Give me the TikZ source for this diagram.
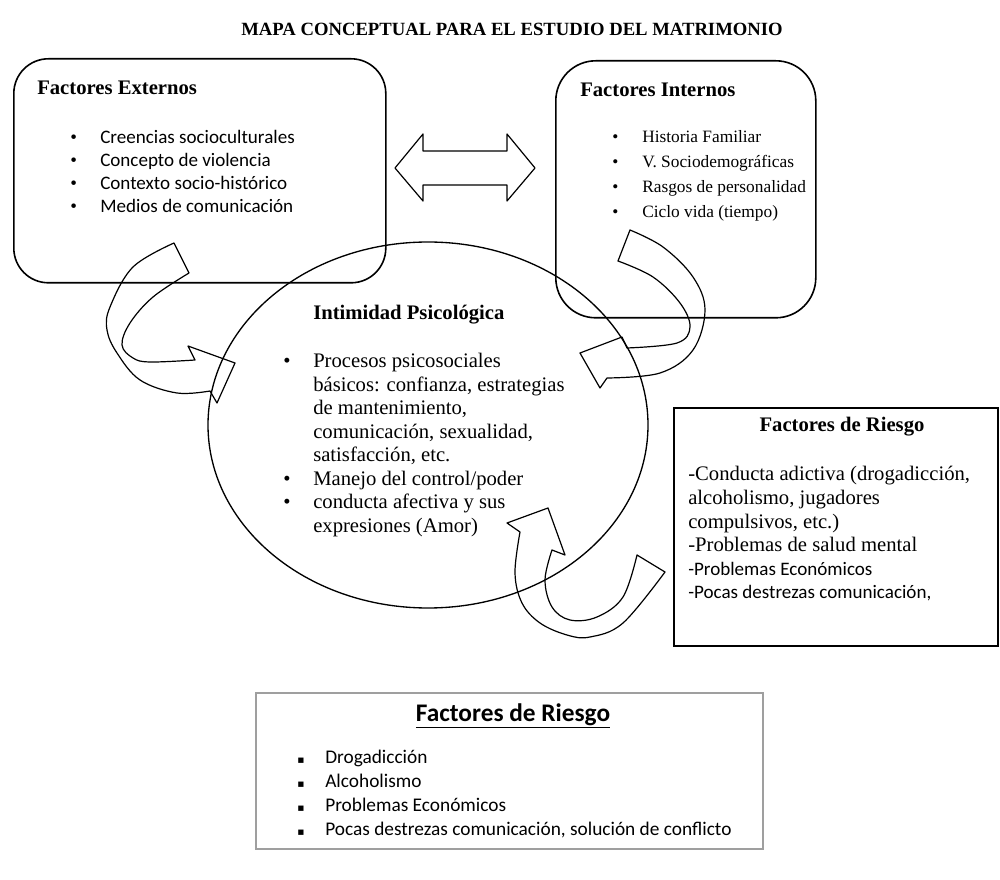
\documentclass[tikz,border=0pt]{standalone}
\usepackage{fontspec}
\setmainfont{Liberation Serif}
\newfontfamily\calibfont{Carlito}
\newfontfamily\symbfont{DejaVu Sans}
\usetikzlibrary{shapes.geometric}

\tikzset{
  conbox/.style={draw, line width=1.2pt, inner sep=0pt},
  blockarrow/.style={draw, line width=0.9pt, line join=round},
  headtxt/.style={inner sep=0pt, font=\bfseries\fontsize{15.5}{18}\selectfont},
  listtxt/.style={inner sep=0pt, anchor=base west},
}

\begin{document}
\begin{tikzpicture}[x=0.75pt,y=0.75pt,yscale=-1,xscale=1]
        \useasboundingbox (0,0) rectangle (1000,880);

        %Title
        \node[inner sep=0pt, anchor=base, font=\bfseries\fontsize{14}{16}\selectfont] (title) at (512,36) {MAPA CONCEPTUAL PARA EL ESTUDIO DEL MATRIMONIO};

        %Factores Externos
        \node[conbox, rounded corners=26pt, anchor=north west, minimum width=279pt, minimum height=168pt] (ext) at (13,58) {};
        \node[headtxt, anchor=base west] (exthead) at (37,95) {Factores Externos};
        \node[listtxt, font=\calibfont\fontsize{14.3}{17.25}\selectfont] (extlist) at (70,144) {\begin{tabular}[t]{@{}p{22.5pt}@{}l@{}}
          {\rmfamily\textbullet} & Creencias socioculturales\\
          {\rmfamily\textbullet} & Concepto de violencia\\
          {\rmfamily\textbullet} & Contexto socio-histórico\\
          {\rmfamily\textbullet} & Medios de comunicación
        \end{tabular}};

        %Factores Internos
        \node[conbox, rounded corners=30pt, anchor=north west, minimum width=195pt, minimum height=192.75pt] (int) at (555,60) {};
        \node[headtxt, anchor=base west] (inthead) at (580,97) {Factores Internos};
        \node[listtxt, font=\fontsize{13}{18.75}\selectfont] (intlist) at (612,143) {\begin{tabular}[t]{@{}p{22.5pt}@{}l@{}}
          \textbullet & Historia Familiar\\
          \textbullet & V. Sociodemográficas\\
          \textbullet & Rasgos de personalidad\\
          \textbullet & Ciclo vida (tiempo)
        \end{tabular}};

        %Double Arrow
        \draw[blockarrow] (395,168) -- (423,134) -- (423,151) -- (507,151) -- (507,134) -- (535,168) -- (507,201) -- (507,185) -- (423,185) -- (423,201) -- cycle;

        %Intimidad Psicologica
        \node[draw, ellipse, line width=1pt, minimum width=330pt, minimum height=274.5pt] (intim) at (428,425) {};
        \node[headtxt, anchor=base west] (intimhead) at (313,320) {Intimidad Psicológica};
        \node[listtxt, font=\fontsize{15.5}{17.6}\selectfont] (intimlist) at (283,368) {\begin{tabular}[t]{@{}p{22.5pt}@{}l@{}}
          \textbullet & Procesos psicosociales\\
           & básicos: confianza, estrategias\\
           & de mantenimiento,\\
           & comunicación, sexualidad,\\
           & satisfacción, etc.\\
          \textbullet & Manejo del control/poder\\
          \textbullet & conducta afectiva y sus\\
           & expresiones (Amor)
        \end{tabular}};

        %Factores de Riesgo
        \node[conbox, anchor=north west, minimum width=243pt, minimum height=178.5pt] (riesgo) at (673,407) {};
        \node[headtxt, anchor=base] (riesgohead) at (842,432) {Factores de Riesgo};
        \node[listtxt, font=\fontsize{15.5}{18}\selectfont] (riesgolist) at (688,480) {\begin{tabular}[t]{@{}l@{}}
          -Conducta adictiva (drogadicción,\\
          alcoholismo, jugadores\\
          compulsivos, etc.)\\
          -Problemas de salud mental
        \end{tabular}};
        \node[listtxt, font=\calibfont\fontsize{14.3}{17.25}\selectfont] (riesgolistb) at (688,575) {\begin{tabular}[t]{@{}l@{}}
          -Problemas Económicos\\
          -Pocas destrezas comunicación,
        \end{tabular}};

        %Factores de Riesgo (resumen)
        \node[draw=gray!75, line width=1.6pt, inner sep=0pt, anchor=north west, minimum width=380.25pt, minimum height=117pt] (resumen) at (255,692) {};
        \node[inner sep=0pt, anchor=base, font=\calibfont\bfseries\fontsize{19}{22}\selectfont] (resumenhead) at (513,721) {\underline{Factores de Riesgo}};
        \node[listtxt, font=\calibfont\fontsize{14.5}{18}\selectfont] (resumenlist) at (297,763) {\begin{tabular}[t]{@{}p{21pt}@{}l@{}}
          {\symbfont\fontsize{8}{8}\selectfont ▪} & Drogadicción\\
          {\symbfont\fontsize{8}{8}\selectfont ▪} & Alcoholismo\\
          {\symbfont\fontsize{8}{8}\selectfont ▪} & Problemas Económicos\\
          {\symbfont\fontsize{8}{8}\selectfont ▪} & Pocas destrezas comunicación, solución de conflicto
        \end{tabular}};

        %Curved Arrow: Externos to Intimidad
        \draw[blockarrow] (174,243) -- (189,273)
          -- plot[smooth, tension=0.6] coordinates {(189,273) (153,297) (130,323) (122,345) (133,358) (150,362) (195,360)}
          -- (188,346) -- (235,363) -- (217,403) -- (210,391)
          -- plot[smooth, tension=0.6] coordinates {(210,391) (177,393) (140,380) (117,353) (107,330) (110,307) (133,267) (174,243)}
          -- cycle;

        %Curved Arrow: Internos to Intimidad
        \draw[blockarrow] (630,230) -- (618,261)
          -- plot[smooth, tension=0.6] coordinates {(618,261) (653,277) (680,303) (690,327) (677,343) (627,348)}
          -- (622,337) -- (580,353) -- (600,388) -- (607,378)
          -- plot[smooth, tension=0.6] coordinates {(607,378) (660,373) (693,350) (705,310) (693,277) (663,247) (630,230)}
          -- cycle;

        %Curved Arrow: Riesgo to Intimidad
        \draw[blockarrow] (665,572) -- (637,555)
          -- plot[smooth, tension=0.6] coordinates {(637,555) (623,597) (597,617) (570,620) (552,607) (545,580) (552,550)}
          -- (565,555) -- (548,508) -- (507,523) -- (520,532)
          -- plot[smooth, tension=0.6] coordinates {(520,532) (515,573) (522,603) (540,623) (567,635) (590,637) (623,623) (665,572)}
          -- cycle;

\end{tikzpicture}
\end{document}
